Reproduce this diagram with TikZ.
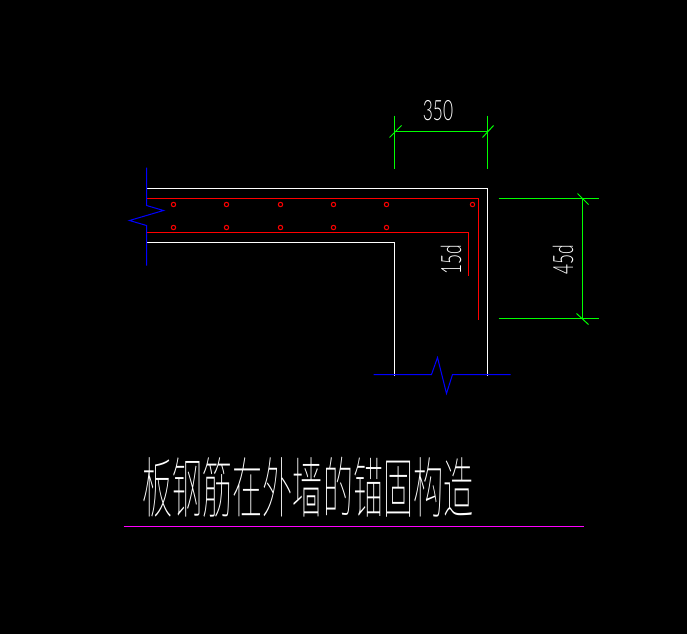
\documentclass[tikz,border=0pt]{standalone}
\usepackage{fontspec}
\setmainfont{Lato Light}
\newfontfamily\cjk{Noto Sans CJK SC Thin}
\usetikzlibrary{calc,positioning}
\definecolor{cadgreen}{RGB}{0,255,0}
\definecolor{cadblue}{RGB}{0,0,255}
\definecolor{cadred}{RGB}{255,0,0}
\definecolor{cadpink}{RGB}{255,0,255}
\tikzstyle{wall}  = [white,line width=1pt]
\tikzstyle{rebar} = [cadred,line width=1pt]
\tikzstyle{bar}   = [cadred,line width=1pt]
\tikzstyle{cut}   = [cadblue,line width=1pt]
\tikzstyle{dim}   = [cadgreen,line width=1pt]
\tikzstyle{dimtext} = [white,inner sep=0pt,font=\fontsize{28}{28}\selectfont]
\begin{document}
\begin{tikzpicture}[x=1pt,y=-1pt]
	\fill[black] (0,0) rectangle (687,634);
	\useasboundingbox (0,0) rectangle (687,634);

	\begin{scope}[shift={(0.5,0.5)}]
	\draw[wall] (146,188) -- (487,188) -- (487,375);
	\draw[wall] (146,242) -- (394,242) -- (394,375);

	\draw[rebar] (146,198) -- (478,198) -- (478,319);
	\draw[rebar] (146,232) -- (468,232) -- (468,275);
	\foreach \x in {173,226,280,333,386} {
		\draw[bar] (\x,204) circle (2.2);
		\draw[bar] (\x,227) circle (2.2);
	}
	\draw[bar] (472,204) circle (2.2);

	\draw[cut] (146,167) -- (146,205) -- (163,210) -- (129,220) -- (146,225) -- (146,265);
	\draw[cut] (373,374) -- (431,374) -- (437,357) -- (446,393) -- (452,374) -- (510,374);

	\draw[dim] (394,115) -- (394,168);
	\draw[dim] (487,115) -- (487,168);
	\draw[dim] (394,131) -- (487,131);
	\draw[dim] (389,137) -- (401,125);
	\draw[dim] (482,137) -- (493,125);

	\draw[dim] (498,198) -- (598,198);
	\draw[dim] (498,318) -- (598,318);
	\draw[dim] (582,198) -- (582,318);
	\draw[dim] (577,193) -- (588,204);
	\draw[dim] (576,313) -- (588,324);

	\draw[cadpink,line width=1pt] (123,526) -- (583,526);
	\end{scope}

	\node[dimtext,xscale=0.62] (width) at (438,111) {350};
	\node[dimtext,rotate=90,xscale=0.62] (hook) at (451,260) {15d};
	\node[dimtext,rotate=90,xscale=0.62] (anchor) at (563,260) {45d};

	\node[white,inner sep=0pt,xscale=0.455,font=\cjk\fontsize{66}{66}\selectfont] (title) at (308,487) {板钢筋在外墙的锚固构造};
\end{tikzpicture}
\end{document}
